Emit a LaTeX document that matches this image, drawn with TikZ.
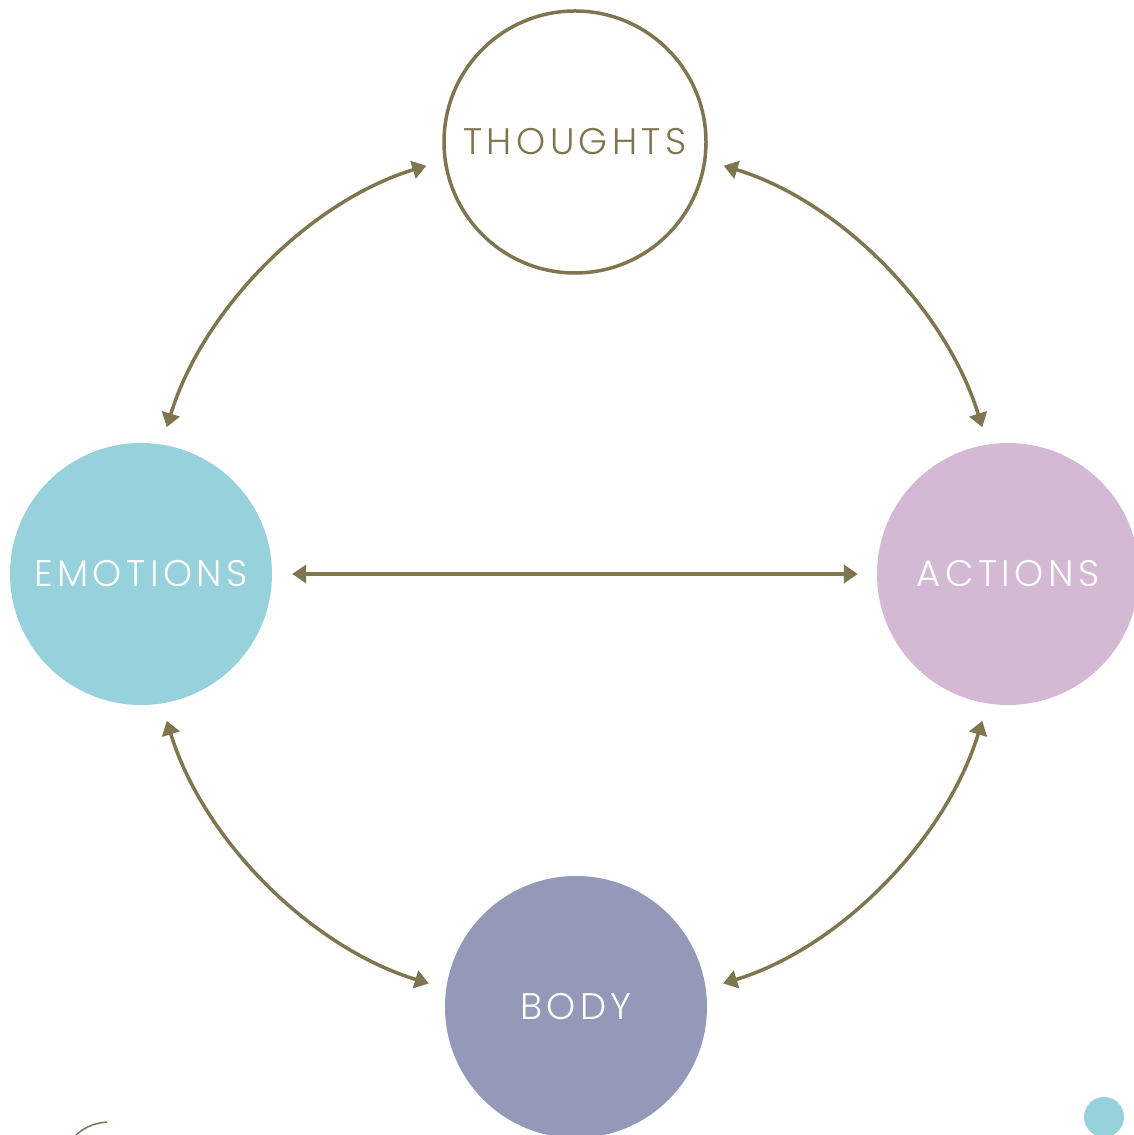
\documentclass[tikz,border=0pt]{standalone}
\usepackage{fontspec}
\newfontfamily\stagefont[LetterSpace=12]{Poppins Light}
\definecolor{CycleOlive}{HTML}{7F7650}
\definecolor{EmotionBlue}{HTML}{97D1DC}
\definecolor{ActionLilac}{HTML}{D3B9D4}
\definecolor{BodySlate}{HTML}{9599B9}
\usetikzlibrary{arrows.meta}

\begin{document}
\begin{tikzpicture}[x=1pt, y=1pt,
        stage/.style={circle, minimum size=262pt, inner sep=0pt, font=\stagefont\fontsize{37}{37}\selectfont},
        link/.style={CycleOlive, line width=3.5pt, {Triangle[length=14pt,width=18pt]}-{Triangle[length=14pt,width=18pt]}, shorten <=18pt, shorten >=18pt}]
        \clip (0,0) rectangle (1134,1135);
        \fill[white] (0,0) rectangle (1134,1135);

        \node[stage, draw=CycleOlive, line width=3.5pt, text=CycleOlive] (thoughts) at (575,993) {THOUGHTS};
        \node[stage, fill=EmotionBlue, text=white] (emotions) at (141,561) {EMOTIONS};
        \node[stage, fill=ActionLilac, text=white] (actions) at (1008,561) {ACTIONS};
        \node[stage, fill=BodySlate, text=white] (body) at (576,128) {BODY};

        % arcs round the cycle
        \draw[link] (thoughts.188) to[out=197, in=73, looseness=0.9] (emotions.81);
        \draw[link] (thoughts.352) to[out=-17, in=107, looseness=0.9] (actions.99);
        \draw[link] (body.172) to[out=163, in=287, looseness=0.9] (emotions.279);
        \draw[link] (body.8) to[out=17, in=253, looseness=0.9] (actions.261);
        \draw[link, shorten <=20pt, shorten >=19pt] (emotions) -- (actions);

        % corner marks
        \node[circle, fill=EmotionBlue, minimum size=40pt, inner sep=0pt] (dot) at (1104,18) {};
        \coordinate (curlA) at (76,0);
        \coordinate (curlB) at (107,13);
        \draw[CycleOlive, line width=1.5pt] (curlA) .. controls (86,9) and (96,12) .. (curlB);
    \end{tikzpicture}
\end{document}
